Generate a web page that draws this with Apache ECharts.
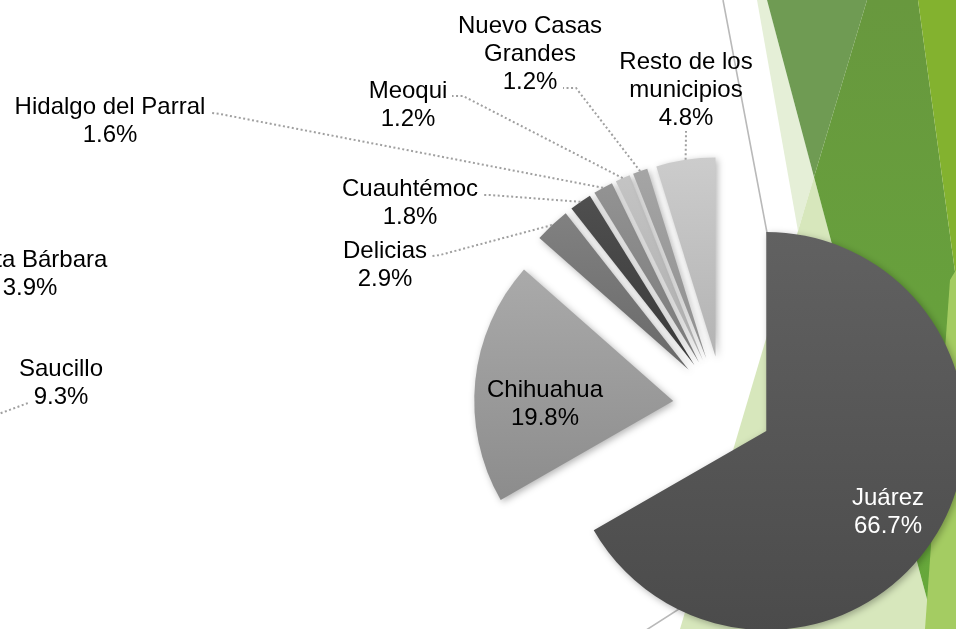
<!DOCTYPE html>
<html>
<head>
<meta charset="utf-8">
<script src="https://cdn.jsdelivr.net/npm/echarts@6/dist/echarts.min.js"></script>
<style>
  html, body { margin: 0; padding: 0; background: #ffffff; }
  #chart { width: 956px; height: 629px; }
</style>
</head>
<body>
<div id="chart"></div>
<script>
// Población por municipio (% del total estatal)
const municipios = ['Juárez', 'Chihuahua', 'Delicias', 'Cuauhtémoc', 'Hidalgo del Parral', 'Meoqui', 'Nuevo Casas Grandes', 'Resto de los municipios'];
const porcentajes = [66.7, 19.8, 2.9, 1.8, 1.6, 1.2, 1.2, 4.8];
const etiquetas = ['Juárez', 'Chihuahua', 'Delicias', 'Cuauhtémoc', 'Hidalgo del Parral', 'Meoqui', 'Nuevo Casas\nGrandes', 'Resto de los\nmunicipios'];

// Rótulos del gráfico vecino (a la izquierda)
const otrosMunicipios = ['Santa Bárbara', 'Saucillo'];
const otrosPorcentajes = [3.9, 9.3];

// Tonos de gris (arriba, abajo) de cada sector
const tonos = [
  ['#616161', '#4b4b4b'],
  ['#aaaaaa', '#8c8c8c'],
  ['#818181', '#696969'],
  ['#4f4f4f', '#3a3a3a'],
  ['#939393', '#7a7a7a'],
  ['#c4c4c4', '#adadad'],
  ['#a5a5a5', '#8f8f8f'],
  ['#cccccc', '#b3b3b3']
];

// Centro de cada rótulo y tramo final de su guía
const rotulos = [
  { x: 888, y: 512 },
  { x: 545, y: 404 },
  { x: 385, y: 265, guia: [[440, 255], [432, 256]] },
  { x: 410, y: 203, guia: [[490, 195], [483, 195]] },
  { x: 110, y: 121, guia: [[220, 114], [212, 113]] },
  { x: 408, y: 105, guia: [[463, 96], [452, 96]] },
  { x: 530, y: 54, guia: [[576, 88], [563, 88]] },
  { x: 686, y: 90, guia: [[686, 134], [686, 131]] }
];
const rotulosOtros = [{ x: 30, y: 274 }, { x: 61, y: 383 }];

const centro = [723, 406];
const radio = 199;
const separacion = 50;
const fuente = '"Liberation Sans", Arial, sans-serif';
const guiaColor = '#a0a0a0';
const guiaTrazo = [2, 2.5];

function degradado(par) {
  return new echarts.graphic.LinearGradient(0, 0, 0, 1, [
    { offset: 0, color: par[0] },
    { offset: 1, color: par[1] }
  ]);
}

// Sectores separados del centro
const sectores = municipios.map((nombre, i) => ({
  name: nombre,
  value: porcentajes[i],
  selected: true,
  itemStyle: { color: degradado(tonos[i]) },
  select: { itemStyle: { color: degradado(tonos[i]) } }
}));

// Capa de rótulos (mismos valores, sin relleno)
const rotulosDatos = municipios.map((nombre, i) => ({
  name: nombre,
  value: porcentajes[i],
  label: { color: i === 0 ? '#ffffff' : '#000000' },
  labelLine: { show: !!rotulos[i].guia }
}));

// Fondo decorativo: franjas verdes a la derecha
const fondo = [
  { type: 'polygon', z: -10, silent: true, shape: { points: [[757, 0], [767, 0], [814, 177], [798, 231]] }, style: { fill: '#e5efd7' } },
  { type: 'polygon', z: -10, silent: true, shape: { points: [[767, 0], [867, 0], [814, 177]] }, style: { fill: '#6f9b53' } },
  { type: 'polygon', z: -10, silent: true, shape: { points: [[814, 177], [935, 629], [680, 629]] }, style: { fill: '#d7e7bc' } },
  { type: 'polygon', z: -10, silent: true, shape: { points: [[867, 0], [918, 0], [956, 279], [956, 629], [935, 629], [814, 177]] },
    style: { fill: new echarts.graphic.LinearGradient(0, 0, 0, 1, [{ offset: 0, color: '#68983e' }, { offset: 1, color: '#66a93a' }]) } },
  { type: 'polygon', z: -10, silent: true, shape: { points: [[918, 0], [956, 0], [956, 279]] }, style: { fill: '#83b22f' } },
  { type: 'polygon', z: -10, silent: true, shape: { points: [[950, 280], [956, 270], [956, 629], [925, 629]] }, style: { fill: '#a4cc62' } },
  { type: 'polyline', z: -9, silent: true, shape: { points: [[723, 0], [821, 518], [640, 634]] }, style: { stroke: '#b9b9b9', lineWidth: 1.6, fill: null } }
];

const otros = otrosMunicipios.map((nombre, i) => ({
  type: 'text', z: 5, silent: true,
  x: rotulosOtros[i].x, y: rotulosOtros[i].y,
  style: {
    text: nombre + '\n' + otrosPorcentajes[i].toFixed(1) + '%',
    font: '24px ' + fuente, fill: '#000000',
    align: 'center', verticalAlign: 'middle', lineHeight: 28
  }
}));
const guiaSaucillo = {
  type: 'polyline', z: 5, silent: true,
  shape: { points: [[-12, 418], [28, 403]] },
  style: { stroke: guiaColor, lineWidth: 2, lineDash: guiaTrazo, fill: null }
};

const comun = {
  type: 'pie',
  center: centro,
  radius: [0, radio],
  startAngle: 90,
  clockwise: true,
  avoidLabelOverlap: false,
  emphasis: { disabled: true }
};

const chart = echarts.init(document.getElementById('chart'), null, { renderer: 'canvas' });
chart.setOption({
  backgroundColor: '#ffffff',
  animation: false,
  graphic: { elements: fondo.concat(otros, [guiaSaucillo]) },
  series: [
    Object.assign({}, comun, {
      name: 'Sectores',
      z: 2,
      selectedMode: 'multiple',
      selectedOffset: separacion,
      itemStyle: {
        shadowBlur: 7,
        shadowColor: 'rgba(0,0,0,0.3)',
        shadowOffsetX: 2,
        shadowOffsetY: 2
      },
      label: { show: false },
      labelLine: { show: false },
      data: sectores
    }),
    Object.assign({}, comun, {
      name: 'Rótulos',
      z: 3,
      silent: true,
      selectedMode: false,
      itemStyle: { color: 'rgba(0,0,0,0)', borderWidth: 0 },
      label: {
        show: true,
        position: 'outside',
        fontFamily: fuente,
        fontSize: 24,
        lineHeight: 28,
        align: 'center',
        formatter: p => etiquetas[p.dataIndex] + '\n' + p.value.toFixed(1) + '%'
      },
      labelLine: {
        show: true,
        smooth: false,
        lineStyle: { color: guiaColor, width: 2, type: guiaTrazo }
      },
      labelLayout: p => {
        const r = rotulos[p.dataIndex];
        const out = { x: r.x, y: r.y, align: 'center', verticalAlign: 'middle' };
        if (r.guia && p.labelLinePoints) {
          // punto de arranque: borde exterior del sector ya separado
          const p0 = p.labelLinePoints[0];
          const vx = p0[0] - centro[0], vy = p0[1] - centro[1];
          const d = Math.sqrt(vx * vx + vy * vy) || 1;
          const ini = [centro[0] + vx / d * (radio + separacion), centro[1] + vy / d * (radio + separacion)];
          out.labelLinePoints = [ini, r.guia[0], r.guia[1]];
        }
        return out;
      },
      data: rotulosDatos
    })
  ]
});
</script>
</body>
</html>
